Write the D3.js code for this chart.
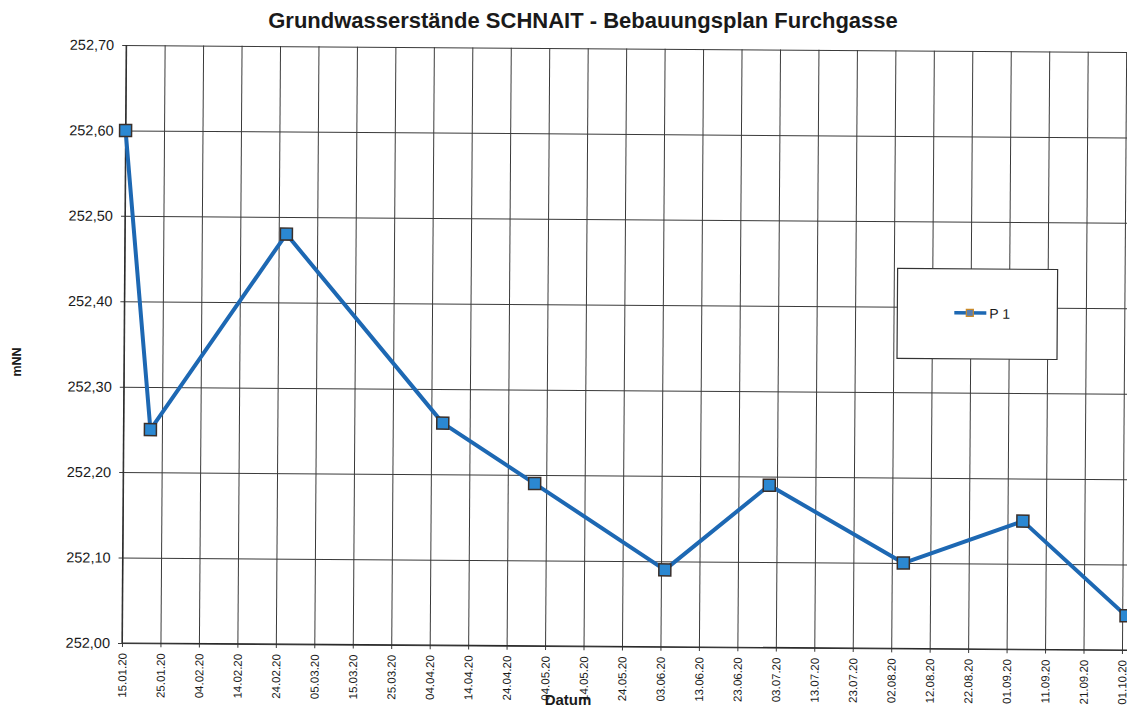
<!DOCTYPE html>
<html>
<head>
<meta charset="utf-8">
<script src="https://cdn.jsdelivr.net/npm/d3@7"></script>
<style>
  html, body { margin: 0; padding: 0; background: #fff; }
  svg { display: block; font-family: "Liberation Sans", Arial, sans-serif; }
</style>
</head>
<body>
<svg id="chart" width="1127" height="710"></svg>
<script>
// ---- data ----
const titleText = "Grundwasserstände SCHNAIT - Bebauungsplan Furchgasse";
const seriesName = "P 1";
const dates = ["15.01.20","22.01.20","26.02.20","07.04.20","01.05.20","04.06.20","01.07.20","05.08.20","05.09.20","02.10.20"];
const values = [252.60, 252.25, 252.48, 252.26, 252.19, 252.09, 252.19, 252.10, 252.15, 252.04];
const xTickLabels = ["15.01.20","25.01.20","04.02.20","14.02.20","24.02.20","05.03.20","15.03.20","25.03.20",
  "04.04.20","14.04.20","24.04.20","04.05.20","14.05.20","24.05.20","03.06.20","13.06.20","23.06.20",
  "03.07.20","13.07.20","23.07.20","02.08.20","12.08.20","22.08.20","01.09.20","11.09.20","21.09.20","01.10.20"];
const yTicks = [252.00, 252.10, 252.20, 252.30, 252.40, 252.50, 252.60, 252.70];
const xAxisTitle = "Datum";
const yAxisTitle = "mNN";

// ---- layout ----
const svg = d3.select("#chart");
const parse = d3.utcParse("%d.%m.%y");
const pLeft = 122, pTop = 45, pBottom = 643, pRightTick = 1122, pRight = 1145;

const x = d3.scaleUtc()
  .domain([parse(xTickLabels[0]), parse(xTickLabels[xTickLabels.length - 1])])
  .range([pLeft, pRightTick]);
const y = d3.scaleLinear().domain([252.0, 252.7]).range([pBottom, pTop]);

const fmt = v => d3.format(".2f")(v).replace(".", ",");

// title
svg.append("text")
  .attr("x", 583).attr("y", 28)
  .attr("text-anchor", "middle")
  .attr("font-size", 22).attr("font-weight", "bold").attr("fill", "#1a1a1a")
  .text(titleText);

// y axis title
svg.append("text")
  .attr("transform", "translate(21,362) rotate(-90)")
  .attr("text-anchor", "middle")
  .attr("font-size", 12.5).attr("font-weight", "bold").attr("fill", "#1a1a1a")
  .text(yAxisTitle);

// x axis title
svg.append("text")
  .attr("x", 568).attr("y", 705)
  .attr("text-anchor", "middle")
  .attr("font-size", 15).attr("font-weight", "bold").attr("fill", "#1a1a1a")
  .text(xAxisTitle);

const g = svg.append("g").attr("transform", `rotate(0.4,${pLeft},${pBottom})`);

// horizontal grid + y axis
const yAxis = d3.axisLeft(y).tickValues(yTicks).tickFormat(fmt)
  .tickSizeInner(-(pRight - pLeft)).tickSizeOuter(0).tickPadding(12);
const ya = g.append("g").attr("transform", `translate(${pLeft},0)`).call(yAxis);
ya.select(".domain").remove();
ya.selectAll(".tick line").attr("stroke", "#3a3a3a").attr("stroke-width", 1).attr("x1", -4);
ya.selectAll(".tick text").attr("font-size", 14.5).attr("fill", "#1a1a1a")
  .attr("font-family", "'Liberation Sans', Arial, sans-serif");

// vertical grid + x axis
const xAxis = d3.axisBottom(x).tickValues(xTickLabels.map(parse))
  .tickFormat(d3.utcFormat("%d.%m.%y"))
  .tickSizeInner(-(pBottom - pTop)).tickSizeOuter(0).tickPadding(0);
const xa = g.append("g").attr("transform", `translate(0,${pBottom})`).call(xAxis);
xa.select(".domain").remove();
xa.selectAll(".tick line").attr("stroke", "#3a3a3a").attr("stroke-width", 1).attr("y1", 4);
xa.selectAll(".tick text")
  .attr("font-size", 11.5).attr("fill", "#1a1a1a")
  .attr("font-family", "'Liberation Sans', Arial, sans-serif")
  .attr("text-anchor", "end")
  .attr("dy", null)
  .attr("transform", "translate(4,10) rotate(-90)")
  .attr("x", 0).attr("y", 0);

// axes lines
g.append("line").attr("x1", pLeft).attr("x2", pRight).attr("y1", pBottom).attr("y2", pBottom)
  .attr("stroke", "#2a2a2a").attr("stroke-width", 1.2);
g.append("line").attr("x1", pLeft).attr("x2", pLeft).attr("y1", pTop).attr("y2", pBottom)
  .attr("stroke", "#2a2a2a").attr("stroke-width", 1.2);

// series
const pts = dates.map((d, i) => ({ d: parse(d), v: values[i] }));
const line = d3.line().x(p => x(p.d)).y(p => y(p.v));
g.append("path").datum(pts)
  .attr("d", line)
  .attr("fill", "none")
  .attr("stroke", "#1d68b3")
  .attr("stroke-width", 4)
  .attr("stroke-linejoin", "round");

const ms = 12;
g.selectAll("rect.marker").data(pts).enter().append("rect")
  .attr("class", "marker")
  .attr("x", p => x(p.d) - ms / 2).attr("y", p => y(p.v) - ms / 2)
  .attr("width", ms).attr("height", ms)
  .attr("fill", "#2b88d2").attr("stroke", "#3a2f2a").attr("stroke-width", 1.5);

// legend
const lg = g.append("g");
lg.append("rect").attr("x", 895).attr("y", 263).attr("width", 160).attr("height", 90)
  .attr("fill", "#fff").attr("stroke", "#333").attr("stroke-width", 1.2);
lg.append("line").attr("x1", 952).attr("x2", 984).attr("y1", 307).attr("y2", 307)
  .attr("stroke", "#1d68b3").attr("stroke-width", 3.5);
lg.append("rect").attr("x", 964).attr("y", 303.5).attr("width", 7).attr("height", 7)
  .attr("fill", "#5c7fae").attr("stroke", "#c98a2a").attr("stroke-width", 1.2);
lg.append("text").attr("x", 987).attr("y", 312.5)
  .attr("font-size", 14).attr("fill", "#1a1a1a").text(seriesName);
</script>
</body>
</html>
